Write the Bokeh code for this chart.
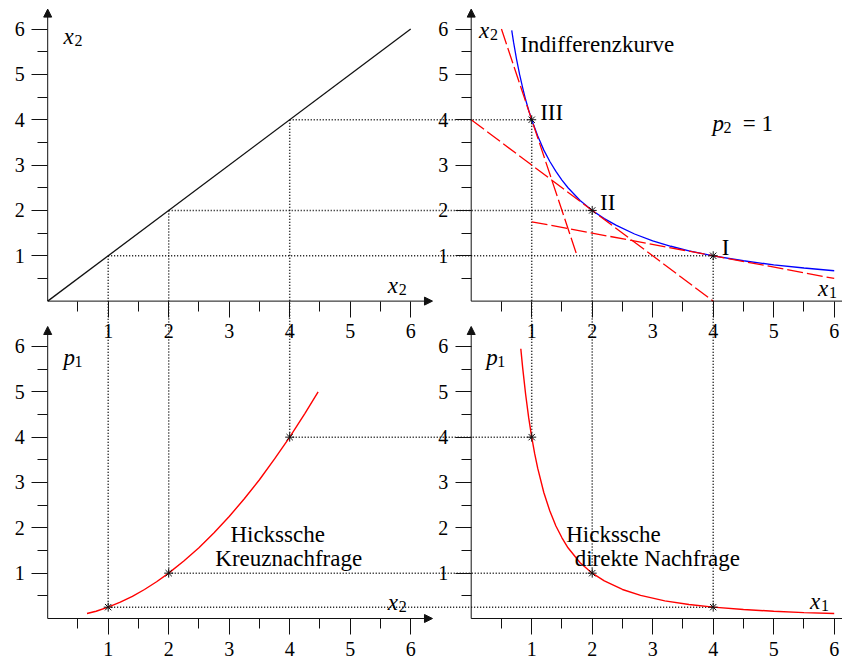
import numpy as np
from bokeh.plotting import figure
from bokeh.models import Range1d, LinearAxis, FixedTicker, Arrow, NormalHead
from bokeh.core.properties import value
from bokeh.embed import file_html
from bokeh.resources import INLINE

# Three bundles on the indifference curve: I, II, III
bundle_names = ["I", "II", "III"]
x1_bundle = [4.0, 2.0, 1.0]
x2_bundle = [1.0, 2.0, 4.0]
p1_bundle = [0.25, 1.0, 4.0]

# 45-degree mirror line (upper left)
mirror_x2 = [0.0, 6.0]
mirror_y = [0.0, 6.0]

# Indifference curve x2(x1) (upper right)
indiff_x1 = [0.67, 0.70, 0.75, 0.80, 0.85, 0.90, 0.95, 1.00, 1.10, 1.20, 1.30, 1.40,
             1.50, 1.60, 1.80, 2.00, 2.20, 2.40, 2.70, 3.00, 3.30, 3.60, 4.00, 4.50,
             5.00, 5.50, 6.00]
indiff_x2 = [5.97, 5.71, 5.33, 5.00, 4.71, 4.44, 4.21, 4.00, 3.64, 3.33, 3.08, 2.86,
             2.67, 2.50, 2.22, 2.00, 1.82, 1.67, 1.48, 1.33, 1.21, 1.11, 1.00, 0.89,
             0.80, 0.73, 0.67]

# Budget lines tangent at III, II and I
budget_x1_start = [0.50, 0.00, 1.00]
budget_x2_start = [6.00, 4.00, 1.75]
budget_x1_end = [1.75, 4.00, 6.00]
budget_x2_end = [1.00, 0.00, 0.50]

# Hicksian cross demand p1(x2) (lower left)
cross_x2 = [0.65, 0.80, 1.00, 1.20, 1.40, 1.60, 1.80, 2.00, 2.25, 2.50, 2.75, 3.00,
            3.25, 3.50, 3.75, 4.00, 4.25, 4.47]
cross_p1 = [0.11, 0.16, 0.25, 0.36, 0.49, 0.64, 0.81, 1.00, 1.27, 1.56, 1.89, 2.25,
            2.64, 3.06, 3.52, 4.00, 4.52, 5.00]

# Hicksian direct demand p1(x1) (lower right)
direct_x1 = [0.82, 0.85, 0.90, 0.95, 1.00, 1.05, 1.10, 1.20, 1.30, 1.40, 1.50, 1.60,
             1.80, 2.00, 2.20, 2.50, 2.80, 3.20, 3.60, 4.00, 4.50, 5.00, 5.50, 6.00]
direct_p1 = [5.95, 5.54, 4.94, 4.43, 4.00, 3.63, 3.31, 2.78, 2.37, 2.04, 1.78, 1.56,
             1.23, 1.00, 0.83, 0.64, 0.51, 0.39, 0.31, 0.25, 0.20, 0.16, 0.13, 0.11]

tick_values = [1, 2, 3, 4, 5, 6]
minor_tick_values = [0.5, 1.5, 2.5, 3.5, 4.5, 5.5]

# ---------------------------------------------------------------------------
# One shared coordinate system; the right panels are shifted by DX, the top
# panels by DY.
DX, DY = 7.0, 7.0
X0, X1 = -0.780, 13.137
Y0, Y1 = -0.904, 13.630

FONT_NAME = "'Liberation Serif'"
SERIF = value(FONT_NAME)
RED, BLUE, INK, DOTS = "#ff0000", "#0000ff", "#111111", "#000000"

p = figure(width=842, height=659,
           x_range=Range1d(X0, X1), y_range=Range1d(Y0, Y1),
           x_axis_location=None, y_axis_location=None,
           toolbar_location=None, output_backend="svg",
           min_border=0, outline_line_color=None)
p.grid.grid_line_color = None
p.extra_x_ranges = {"right": Range1d(X0 - DX, X1 - DX)}
p.extra_y_ranges = {"top": Range1d(Y0 - DY, Y1 - DY)}

panels = [(0.0, DY), (DX, DY), (0.0, 0.0), (DX, 0.0)]


def style_axis(ax):
    ax.ticker = FixedTicker(ticks=tick_values, minor_ticks=minor_tick_values)
    ax.axis_line_color = None
    ax.major_tick_in = 0
    ax.major_tick_out = 16
    ax.minor_tick_in = 0
    ax.minor_tick_out = 10
    ax.major_tick_line_color = INK
    ax.minor_tick_line_color = INK
    ax.major_tick_line_width = 1
    ax.minor_tick_line_width = 1
    ax.major_label_standoff = 7
    ax.major_label_text_font = FONT_NAME
    ax.major_label_text_font_size = "20px"
    ax.major_label_text_color = "black"


for ox, oy in panels:
    xa = LinearAxis(x_range_name="right" if ox else "default", fixed_location=oy)
    style_axis(xa)
    p.add_layout(xa, "below")
    ya = LinearAxis(y_range_name="top" if oy else "default", fixed_location=ox)
    style_axis(ya)
    p.add_layout(ya, "left")
    # axis lines with arrow heads
    for xe, ye in [(ox + 6.36, oy), (ox, oy + 6.44)]:
        p.add_layout(Arrow(x_start=ox, y_start=oy, x_end=xe, y_end=ye,
                           line_color=INK, line_width=1,
                           end=NormalHead(size=8, fill_color=INK, line_color=INK,
                                          line_width=1)))

# dotted guide lines linking the four panels
sx, sy, ex, ey = [], [], [], []
for x1, x2, p1 in zip(x1_bundle, x2_bundle, p1_bundle):
    segs = [((x2, x2 + DY), (x2, p1)),                 # mirror -> cross demand
            ((x2, x2 + DY), (x1 + DX, x2 + DY)),       # mirror -> indifference
            ((x1 + DX, x2 + DY), (x1 + DX, p1)),       # indifference -> direct demand
            ((x2, p1), (x1 + DX, p1))]                 # cross -> direct demand
    for (a, b), (c, d) in segs:
        sx.append(a); sy.append(b); ex.append(c); ey.append(d)
p.segment(sx, sy, ex, ey, line_color=DOTS, line_width=1.5, line_dash="1 2")

# upper left: mirror line
p.line(np.array(mirror_x2), np.array(mirror_y) + DY, line_color=INK, line_width=1.3)

# upper right: indifference curve and tangent budget lines
p.line(np.array(indiff_x1) + DX, np.array(indiff_x2) + DY, line_color=BLUE, line_width=1.3)
p.segment(np.array(budget_x1_start) + DX, np.array(budget_x2_start) + DY,
          np.array(budget_x1_end) + DX, np.array(budget_x2_end) + DY,
          line_color=RED, line_width=1.3, line_dash="16 4")
p.scatter(np.array(x1_bundle) + DX, np.array(x2_bundle) + DY, marker="asterisk",
          size=9, line_color=INK, line_width=1)

# lower left: Hicksian cross demand
p.line(cross_x2, cross_p1, line_color=RED, line_width=1.4)
p.scatter(x2_bundle, p1_bundle, marker="asterisk", size=9, line_color=INK, line_width=1)

# lower right: Hicksian direct demand
p.line(np.array(direct_x1) + DX, direct_p1, line_color=RED, line_width=1.4)
p.scatter(np.array(x1_bundle) + DX, p1_bundle, marker="asterisk", size=9,
          line_color=INK, line_width=1)


def put(x, y, txt, size="23px", style="normal", dx=0, dy=0):
    p.text(x=[x], y=[y], text=[txt], text_font=SERIF, text_font_size=size,
           text_font_style=style, text_color="black",
           text_align="left", text_baseline="alphabetic",
           x_offset=dx, y_offset=dy)


def symbol(x, y, letter, index):
    # italic letter with an upright, lowered index
    put(x, y, letter, size="23px", style="italic")
    put(x, y, index, size="16px", dx=11, dy=4)


# axis names
symbol(0.26, 5.83 + DY, "x", "2")
symbol(5.62, 0.34 + DY, "x", "2")
symbol(0.13 + DX, 5.96 + DY, "x", "2")
symbol(5.73 + DX, 0.27 + DY, "x", "1")
symbol(0.26, 5.76, "p", "1")
symbol(5.62, 0.36, "x", "2")
symbol(0.25 + DX, 5.76, "p", "1")
symbol(5.60 + DX, 0.37, "x", "1")

# annotations in the upper right panel
put(0.81 + DX, 5.67 + DY, "Indifferenzkurve")
symbol(3.99 + DX, 3.91 + DY, "p", "2")
put(4.49 + DX, 3.91 + DY, "= 1")
for name, (bx, by) in zip(bundle_names, [(4.14, 1.18), (2.13, 2.17), (1.14, 4.16)]):
    put(bx + DX, by + DY, name)

# demand curve captions
put(3.02, 1.85, "Hickssche")
put(2.77, 1.32, "Kreuznachfrage")
put(1.57 + DX, 1.85, "Hickssche")
put(1.71 + DX, 1.32, "direkte Nachfrage")

open("out.html", "w").write(file_html(p, INLINE))
